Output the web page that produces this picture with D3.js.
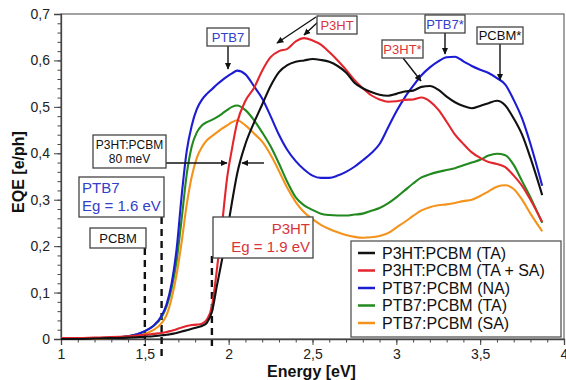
<!DOCTYPE html>
<html><head><meta charset="utf-8">
<script src="https://cdn.jsdelivr.net/npm/d3@7"></script>
<style>
html,body{margin:0;padding:0;background:#fff;}
text{font-family:"Liberation Sans",Arial,Helvetica,sans-serif;}
</style></head>
<body><svg id="chart" width="566" height="380"></svg>
<script>
// ---- data ----
const energy = [1.0,1.1,1.2,1.3,1.4,1.5,1.55,1.6,1.63,1.66,1.69,1.72,1.75,1.78,1.81,1.84,1.87,1.9,1.93,1.96,1.99,2.02,2.05,
  2.1,2.15,2.2,2.25,2.3,2.35,2.4,2.45,2.5,2.55,2.6,2.65,2.7,2.75,2.8,2.85,2.9,2.95,3.0,3.05,3.1,3.15,3.2,3.25,3.3,3.35,3.4,3.45,3.5,3.55,3.6,3.65,3.7,3.75,3.8,3.87];
const p3htTA = [0,0,0.001,0.002,0.003,0.005,0.006,0.008,0.009,0.011,0.013,0.016,0.019,0.022,0.025,0.028,0.035,0.058,0.115,0.17,0.23,0.295,0.355,
  0.42,0.465,0.505,0.545,0.575,0.59,0.597,0.600,0.603,0.601,0.597,0.588,0.574,0.552,0.54,0.532,0.526,0.524,0.528,0.533,0.535,0.543,0.545,0.537,0.522,0.51,0.502,0.497,0.502,0.508,0.513,0.503,0.475,0.44,0.39,0.31];
const p3htTASA = [0.002,0.002,0.003,0.004,0.006,0.009,0.011,0.013,0.015,0.018,0.021,0.025,0.028,0.03,0.031,0.033,0.042,0.07,0.15,0.245,0.345,0.41,0.465,
  0.513,0.54,0.578,0.607,0.62,0.625,0.641,0.648,0.643,0.634,0.618,0.6,0.58,0.558,0.54,0.525,0.516,0.511,0.512,0.515,0.516,0.52,0.512,0.494,0.468,0.44,0.42,0.402,0.39,0.381,0.377,0.37,0.352,0.33,0.30,0.252];
const ptb7NA = [0,0.001,0.002,0.003,0.006,0.017,0.028,0.05,0.075,0.12,0.195,0.31,0.405,0.46,0.495,0.515,0.528,0.538,0.548,0.557,0.565,0.572,0.578,
  0.57,0.545,0.518,0.48,0.44,0.407,0.383,0.365,0.352,0.347,0.347,0.352,0.36,0.371,0.385,0.40,0.42,0.455,0.49,0.52,0.545,0.568,0.585,0.598,0.607,0.608,0.598,0.588,0.58,0.573,0.562,0.548,0.515,0.475,0.42,0.33];
const ptb7TA = [0,0.001,0.002,0.003,0.006,0.017,0.028,0.047,0.07,0.11,0.17,0.26,0.355,0.415,0.445,0.46,0.467,0.472,0.478,0.485,0.493,0.5,0.503,
  0.493,0.472,0.445,0.415,0.378,0.338,0.305,0.288,0.278,0.27,0.267,0.266,0.266,0.268,0.27,0.276,0.282,0.292,0.305,0.32,0.335,0.348,0.355,0.36,0.364,0.368,0.374,0.38,0.386,0.395,0.399,0.396,0.375,0.34,0.305,0.25];
const ptb7SA = [0,0.001,0.001,0.002,0.004,0.011,0.019,0.034,0.052,0.088,0.14,0.21,0.29,0.35,0.39,0.413,0.428,0.437,0.445,0.453,0.46,0.467,0.471,
  0.46,0.443,0.425,0.397,0.362,0.325,0.295,0.273,0.258,0.246,0.237,0.23,0.224,0.22,0.218,0.219,0.222,0.228,0.24,0.252,0.265,0.277,0.284,0.288,0.29,0.293,0.297,0.30,0.308,0.318,0.328,0.331,0.323,0.30,0.27,0.232];
const seriesNames = ["P3HT:PCBM (TA)","P3HT:PCBM (TA + SA)","PTB7:PCBM (NA)","PTB7:PCBM (TA)","PTB7:PCBM (SA)"];
const seriesValues = [p3htTA, p3htTASA, ptb7NA, ptb7TA, ptb7SA];
const seriesColors = ["#111111","#e3262d","#1c1cd4","#22891f","#f4931c"];
const xTicks = [1,1.5,2,2.5,3,3.5,4];
const yTicks = [0,0.1,0.2,0.3,0.4,0.5,0.6,0.7];
const gapLines = [1.5,1.6,1.9]; // PCBM, PTB7, P3HT band gaps (eV)

// ---- layout ----
const svg = d3.select("#chart");
const L = 61, R = 564, T = 14, B = 339;
const x = d3.scaleLinear().domain([1,4]).range([L,R]);
const y = d3.scaleLinear().domain([0,0.7]).range([B,T]);
const fmt = d => String(d).replace(".", ",");

// frame
svg.append("rect").attr("x",L).attr("y",T).attr("width",R-L).attr("height",B-T)
  .attr("fill","none").attr("stroke","#666").attr("stroke-width",1.2);

// y axis
svg.append("g").attr("transform",`translate(${L},0)`)
  .call(d3.axisLeft(y).tickValues(yTicks).tickFormat(fmt).tickSize(7).tickPadding(4));
svg.append("g").attr("transform",`translate(${L},0)`)
  .call(d3.axisLeft(y).tickValues(d3.range(0,0.7001,0.02)).tickFormat("").tickSize(3.5))
  .call(g=>g.select(".domain").remove());
// x axis
svg.append("g").attr("transform",`translate(0,${B})`)
  .call(d3.axisBottom(x).tickValues(xTicks).tickFormat(fmt).tickSize(6).tickPadding(4));
svg.append("g").attr("transform",`translate(0,${B})`)
  .call(d3.axisBottom(x).tickValues(d3.range(1,4.0001,0.1)).tickFormat("").tickSize(3.5))
  .call(g=>g.select(".domain").remove());
svg.selectAll(".tick line").attr("stroke","#444").attr("stroke-width",1);
svg.selectAll(".domain").attr("stroke","#444").attr("stroke-width",1.3);
svg.selectAll(".tick text").attr("font-size",14).attr("fill","#222")
  .style("font-family","'Liberation Sans',Arial,sans-serif");

// axis titles
svg.append("text").attr("x",(L+R)/2 - 1).attr("y",377).attr("text-anchor","middle")
  .attr("font-size",16).attr("font-weight","bold").attr("fill","#111").text("Energy [eV]");
svg.append("text").attr("transform","translate(24,172) rotate(-90)").attr("text-anchor","middle")
  .attr("font-size",16).attr("font-weight","bold").attr("fill","#111").text("EQE [e/ph]");

// dashed band-gap lines
const dashTop = {1.5:248, 1.6:217, 1.9:256};
svg.selectAll(".gap").data(gapLines).join("line")
  .attr("x1",d=>x(d)).attr("x2",d=>x(d)).attr("y1",d=>dashTop[d]).attr("y2",d=> d===1.6?357:346)
  .attr("stroke","#111").attr("stroke-width",2.4).attr("stroke-dasharray","7,5");

// curves
const line = d3.line().x((d,i)=>x(energy[i])).y(d=>y(d)).curve(d3.curveMonotoneX);
const order = [4,3,2,1,0];
svg.selectAll(".curve").data(order).join("path")
  .attr("d",k=>line(seriesValues[k])).attr("fill","none")
  .attr("stroke",k=>seriesColors[k]).attr("stroke-width",2.1).attr("stroke-linejoin","round");

// arrow marker
const defs = svg.append("defs");
defs.append("marker").attr("id","ah").attr("viewBox","0 0 10 10").attr("refX",9).attr("refY",5)
  .attr("markerWidth",7).attr("markerHeight",7).attr("markerUnits","userSpaceOnUse").attr("orient","auto")
  .append("path").attr("d","M0,0.5 L10,5 L0,9.5 Z").attr("fill","#111");

const arrows = [
  [228,45,228,69],[316,17,277,43],[318,22,304,35],[445,33,445,54],[500,43,500,80],[403,58,421,81],
  [166,163,227,163],[264,163,242,163]
];
svg.selectAll(".arr").data(arrows).join("line")
  .attr("x1",d=>d[0]).attr("y1",d=>d[1]).attr("x2",d=>d[2]).attr("y2",d=>d[3])
  .attr("stroke","#111").attr("stroke-width",1.4).attr("marker-end","url(#ah)");

// annotation boxes
const red="#d9343a", blue="#3340c8";
const boxes = [
  {x:207,y:28,w:42,h:18,lines:["PTB7"],c:blue,fs:13,anchor:"middle"},
  {x:317,y:16,w:40,h:18,lines:["P3HT"],c:red,fs:13,anchor:"middle"},
  {x:425,y:15,w:40,h:18,lines:["PTB7*"],c:blue,fs:13,anchor:"middle"},
  {x:477,y:27,w:46,h:17,lines:["PCBM*"],c:"#111",fs:13,anchor:"middle"},
  {x:382,y:40,w:41,h:18,lines:["P3HT*"],c:red,fs:13,anchor:"middle"},
  {x:93,y:135,w:73,h:33,lines:["P3HT:PCBM","80 meV"],c:"#111",fs:12,anchor:"middle"},
  {x:79,y:177,w:85,h:40,lines:["PTB7","Eg = 1.6 eV"],c:blue,fs:15,anchor:"start"},
  {x:90,y:228,w:56,h:20,lines:["PCBM"],c:"#111",fs:13,anchor:"middle"},
  {x:213,y:217,w:100,h:41,lines:["P3HT","Eg = 1.9 eV"],c:red,fs:15,anchor:"end"}
];
const bg = svg.selectAll(".box").data(boxes).join("g");
bg.append("rect").attr("x",d=>d.x).attr("y",d=>d.y).attr("width",d=>d.w).attr("height",d=>d.h)
  .attr("fill","#fff").attr("stroke","#444").attr("stroke-width",1.3);
bg.each(function(d){
  const g=d3.select(this);
  const n=d.lines.length, lh=d.fs*1.2;
  const tx = d.anchor==="middle"? d.x+d.w/2 : d.anchor==="start"? d.x+3 : d.x+d.w-3;
  d.lines.forEach((t,i)=>{
    g.append("text").attr("x",tx)
      .attr("y", d.y + d.h/2 + (i-(n-1)/2)*lh + d.fs*0.36)
      .attr("text-anchor",d.anchor).attr("font-size",d.fs).attr("fill",d.c).text(t);
  });
});

// legend
const lg = svg.append("g");
lg.append("rect").attr("x",351).attr("y",241).attr("width",210).attr("height",96)
  .attr("fill","#fff").attr("stroke","#555").attr("stroke-width",1.3);
const li = lg.selectAll(".li").data(seriesNames).join("g")
  .attr("transform",(d,i)=>`translate(0,${253+i*17.5})`);
li.append("line").attr("x1",358).attr("x2",375).attr("y1",0).attr("y2",0)
  .attr("stroke",(d,i)=>seriesColors[i]).attr("stroke-width",2.5);
li.append("text").attr("x",382).attr("y",5.5).attr("font-size",16).attr("fill","#111").text(d=>d);
</script></body></html>
